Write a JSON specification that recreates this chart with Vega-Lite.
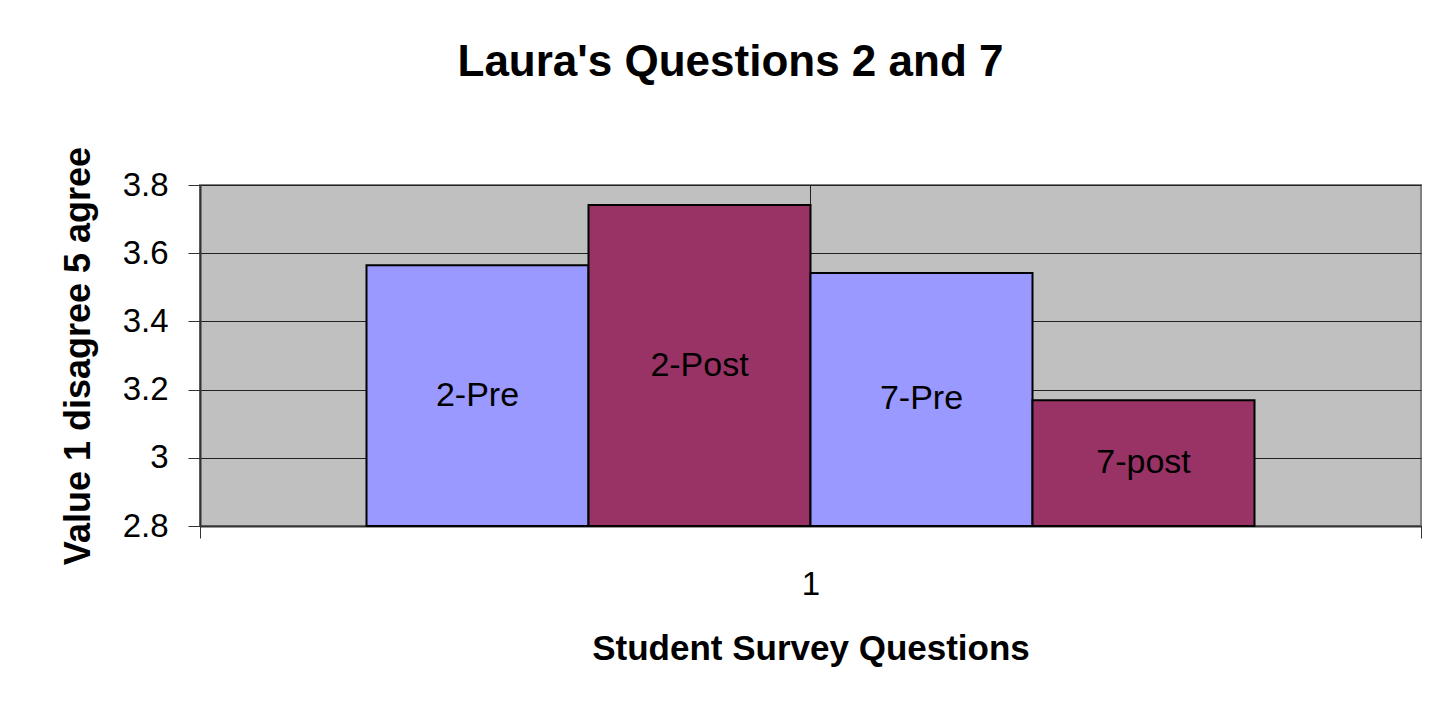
{
  "$schema": "https://vega.github.io/schema/vega-lite/v6.json",
  "width": 1221,
  "height": 341,
  "autosize": {"type": "none"},
  "padding": {"left": 200, "top": 185, "right": 12, "bottom": 187},
  "background": "white",
  "config": {
    "font": "Liberation Sans",
    "view": {"fill": "#C0C0C0", "stroke": "#808080", "strokeWidth": 2}
  },
  "title": {
    "text": "Laura's Questions 2 and 7",
    "fontSize": 44,
    "fontWeight": "bold",
    "color": "black",
    "anchor": "middle",
    "frame": "group",
    "baseline": "alphabetic",
    "offset": 26,
    "dx": -80
  },
  "data": {
    "values": [
      {"q": "1", "series": "2-Pre", "value": 3.565},
      {"q": "1", "series": "2-Post", "value": 3.741},
      {"q": "1", "series": "7-Pre", "value": 3.542},
      {"q": "1", "series": "7-post", "value": 3.169}
    ]
  },
  "encoding": {
    "x": {
      "field": "q",
      "type": "nominal",
      "scale": {"paddingInner": 0, "paddingOuter": 0},
      "axis": {
        "title": "Student Survey Questions",
        "titleFontSize": 35,
        "titleFontWeight": "bold",
        "titleColor": "black",
        "titlePadding": 30,
        "labelFontSize": 33,
        "labelColor": "black",
        "labelAngle": 0,
        "labelPadding": 30,
        "tickBand": "extent",
        "tickSize": 12,
        "tickColor": "#333333",
        "domainColor": "#333333",
        "domainWidth": 2,
        "grid": false
      }
    }
  },
  "layer": [
    {
      "mark": {"type": "rule", "color": "#222222", "strokeWidth": 1},
      "encoding": {}
    },
    {
      "mark": {"type": "bar", "stroke": "black", "strokeWidth": 2},
      "encoding": {
        "xOffset": {
          "field": "series",
          "type": "nominal",
          "sort": ["2-Pre", "2-Post", "7-Pre", "7-post"],
          "scale": {"paddingInner": 0, "paddingOuter": 0.75}
        },
        "y": {
          "field": "value",
          "type": "quantitative",
          "scale": {"domain": [2.8, 3.8], "nice": false, "zero": false},
          "axis": {
            "title": "Value 1 disagree 5 agree",
            "titleFontSize": 36,
            "titleFontWeight": "bold",
            "titleColor": "black",
            "titlePadding": 25,
            "values": [2.8, 3.0, 3.2, 3.4, 3.6, 3.8],
            "format": "~g",
            "labelFontSize": 33,
            "labelColor": "black",
            "labelPadding": 20,
            "tickSize": 12,
            "tickColor": "#333333",
            "domainColor": "#333333",
            "domainWidth": 2,
            "gridColor": "#222222",
            "gridWidth": 1
          }
        },
        "y2": {"datum": 2.8},
        "color": {
          "field": "series",
          "type": "nominal",
          "scale": {"domain": ["2-Pre", "2-Post", "7-Pre", "7-post"], "range": ["#9999FF", "#993366", "#9999FF", "#993366"]},
          "legend": null
        }
      }
    },
    {
      "transform": [{"calculate": "(datum.value + 2.8) / 2", "as": "mid"}],
      "mark": {"type": "text", "fontSize": 34, "color": "black", "baseline": "middle"},
      "encoding": {
        "xOffset": {
          "field": "series",
          "type": "nominal",
          "sort": ["2-Pre", "2-Post", "7-Pre", "7-post"]
        },
        "y": {"field": "mid", "type": "quantitative"},
        "text": {"field": "series"}
      }
    }
  ]
}
